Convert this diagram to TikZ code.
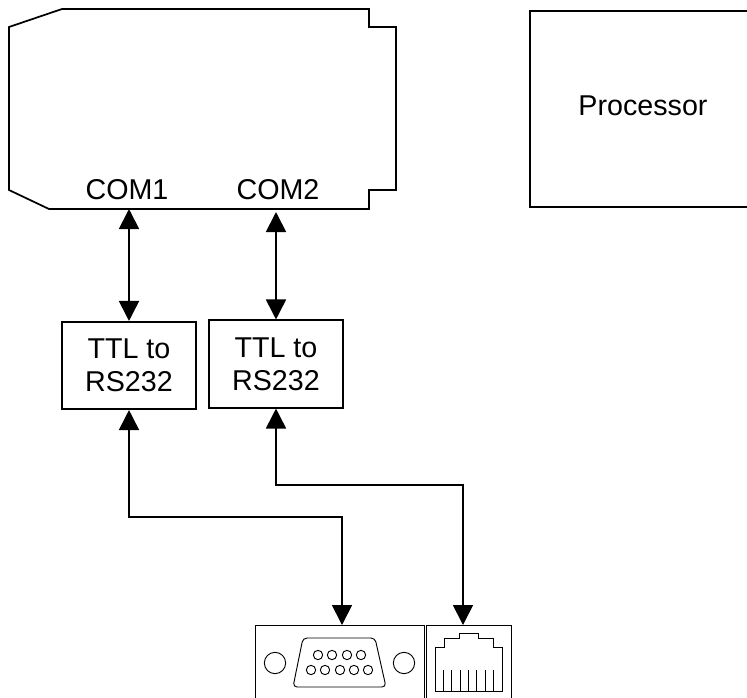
\documentclass[tikz,border=0pt]{standalone}
\usepackage{fontspec}
\setmainfont{Liberation Sans}
\usetikzlibrary{calc, positioning, arrows.meta}
\tikzstyle{every picture}=[line width=1.3pt]
\tikzstyle{biarrow}=[{Triangle[width=15pt,length=15pt]}-{Triangle[width=15pt,length=15pt]}]
\tikzstyle{labeltext}=[font=\fontsize{21.5}{25}\selectfont,align=center,inner sep=0pt]
\tikzstyle{conv}=[draw,labeltext,minimum width=100.5pt,minimum height=65.5pt]
\tikzstyle{panel}=[draw,line width=0.7pt,inner sep=0pt]

\begin{document}
\begin{tikzpicture}[x=0.75pt,y=-0.75pt]

		\clip (0,0) rectangle (747,697);

		% module outline
		\draw (9,27) -- (62,9) -- (369,9) -- (369,27) -- (396,27) -- (396,190) -- (369,190) -- (369,209) -- (49,209) -- (9,190) -- cycle;
		\node[labeltext] (comA) at (127,190) {COM1};
		\node[labeltext] (comB) at (278,190) {COM2};
		\coordinate (portA) at (129,209);
		\coordinate (portB) at (276,212);

		\node[draw,labeltext,minimum width=164pt,minimum height=147pt,anchor=north west] (proc) at (529,10) {};
		\node[labeltext] (proctext) at (643,106) {Processor};

		\node[conv] (ttlA) at (129,365.5) {TTL to\\RS232};
		\node[conv] (ttlB) at (276,364) {TTL to\\RS232};

		% rear panel
		\node[panel,minimum width=126.5pt,minimum height=75pt,anchor=north west] (db) at (255,625) {};
		\node[panel,minimum width=64pt,minimum height=75pt,anchor=north west] (rj) at (426,625) {};
		\coordinate (dbport) at (342,625);
		\coordinate (rjport) at (463,625);
		\coordinate (bendA) at (129,517);
		\coordinate (bendB) at (276,485);

		\foreach \from / \to in {portA/ttlA,portB/ttlB}
		\draw[biarrow] (\from) -- (\to);

		\draw[biarrow] (ttlA.south) -- (bendA) -| (dbport);
		\draw[biarrow] (ttlB.south) -- (bendB) -| (rjport);

		% db9 connector
		\begin{scope}[line width=0.7pt]
		\draw[rounded corners=3pt] (303,638) -- (375,638) -- (386,687) -- (293,687) -- cycle;
		\foreach \x in {275,404}
		\draw (\x,663) circle (8pt);
		\foreach \x in {318,332,347,361}
		\draw (\x,655) circle (3.5pt);
		\foreach \x in {311,325,340,354,368}
		\draw (\x,670) circle (3.5pt);

		% rj45 connector
		\draw (435,691) -- (435,647) -- (444,647) -- (444,638) -- (459,638) -- (459,633) -- (478,633) -- (478,638) -- (493,638) -- (493,647) -- (502,647) -- (502,691) -- cycle;
		\foreach \x in {443,451.5,460,468,476.5,485,493}
		\draw (\x,670) -- (\x,691);
		\end{scope}

	\end{tikzpicture}
\end{document}
